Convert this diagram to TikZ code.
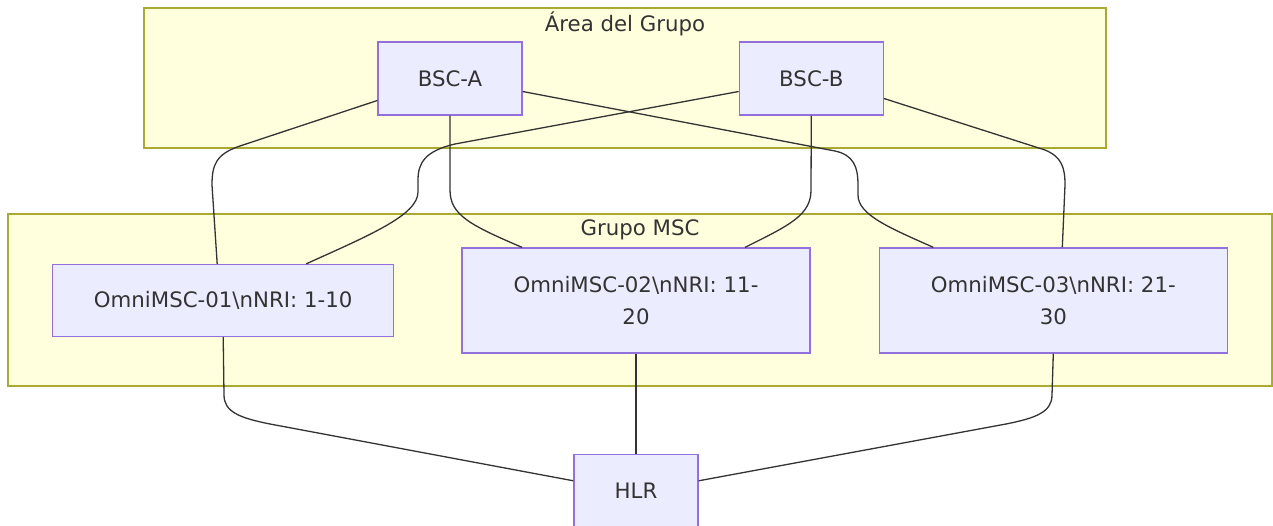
\documentclass[tikz,border=0pt]{standalone}
\usepackage{fontspec}
\setmainfont{DejaVu Sans}
\usepackage{tikz}
\usetikzlibrary{
    positioning,
    backgrounds
}
\definecolor{nodefill}{HTML}{ECECFF}
\definecolor{nodeborder}{HTML}{9370DB}
\definecolor{groupfill}{HTML}{FFFFDE}
\definecolor{groupborder}{HTML}{AAAA33}
\definecolor{linkcolor}{HTML}{333333}
\definecolor{textcolor}{HTML}{333333}
\tikzset{
    netnode/.style={
        rectangle, draw=nodeborder, fill=nodefill,
        line width=1.3pt, minimum width=144pt,
        minimum height=73pt, align=center, inner sep=0pt,
        text=textcolor, font=\fontsize{21.3}{32}\selectfont
    },
    netnode wide/.style={
        netnode, minimum width=348pt, minimum height=105pt
    },
    group box/.style={
        rectangle, draw=groupborder, fill=groupfill,
        line width=1.3pt
    },
    group label/.style={
        inner sep=0pt, text=textcolor,
        font=\fontsize{21.3}{32}\selectfont
    },
    link/.style={
        draw=linkcolor, line width=1.3pt
    },
}
\begin{document}
\begin{tikzpicture}[x=1pt, y=-1pt]
    \useasboundingbox (0,0) rectangle (1273,526);

    % -- Area del Grupo --
    \node[netnode] (bscA) at (450,78.5) {BSC-A};
    \node[netnode, right=216pt of bscA] (bscB) {BSC-B};

    % -- Grupo MSC --
    \node[netnode wide] (msc2) at (636,300.5) {OmniMSC-02\textbackslash nNRI: 11-\\20};
    \node[netnode wide, left=67pt of msc2, minimum width=341pt, minimum height=72pt] (msc1) {OmniMSC-01\textbackslash nNRI: 1-10};
    \node[netnode wide, right=68pt of msc2] (msc3) {OmniMSC-03\textbackslash nNRI: 21-\\30};

    \node[netnode, below=100pt of msc2, minimum width=124pt] (hlr) {HLR};

    \begin{scope}[on background layer]
        \node[group box, minimum width=962pt, minimum height=140pt] (areagrp) at (625,78) {};
        \node[group box, minimum width=1264pt, minimum height=172pt] (mscgrp) at (640,300) {};
    \end{scope}
    \node[group label] (arealbl) at ([yshift=-16pt]areagrp.north) {Área del Grupo};
    \node[group label] (msclbl) at ([yshift=-16pt]mscgrp.north) {Grupo MSC};

    % -- links BSC -> MSC --
    \draw[link] ([yshift=-22pt]bscA.west) -- (240,146) .. controls (216,154) and (212,165) .. (212,185)
        -- ([xshift=-6pt]msc1.north);
    \draw[link] (bscA.south) -- (450,190) .. controls (450,215) and (470,225)
        .. ([xshift=-114pt]msc2.north);
    \draw[link] ([yshift=-13pt]bscA.east) -- (835,151) .. controls (853,155) and (858,166) .. (858,185)
        -- (858,195) .. controls (858,215) and (890,228) .. ([xshift=-120pt]msc3.north);
    \draw[link] ([yshift=-13pt]bscB.west) -- (455,144) .. controls (425,151) and (418,163) .. (418,180)
        -- (418,192) .. controls (418,215) and (370,235) .. ([xshift=83pt]msc1.north);
    \draw[link] (bscB.south) -- (811,190) .. controls (811,215) and (790,225)
        .. ([xshift=109pt]msc2.north);
    \draw[link] ([yshift=-20pt]bscB.east) -- (1045,150) .. controls (1062,157) and (1065,168) .. (1065,185)
        -- ([xshift=9pt]msc3.north);

    % -- links MSC -> HLR --
    \draw[link] (msc1.south) -- (224,395) .. controls (224,412) and (240,418) .. (270,424)
        -- ([yshift=10pt]hlr.west);
    \draw[link] (msc2) -- (hlr);
    \draw[link] (msc3.south) -- (1052,395) .. controls (1052,412) and (1036,418) .. (1006,424)
        -- ([yshift=10pt]hlr.east);

\end{tikzpicture}
\end{document}
